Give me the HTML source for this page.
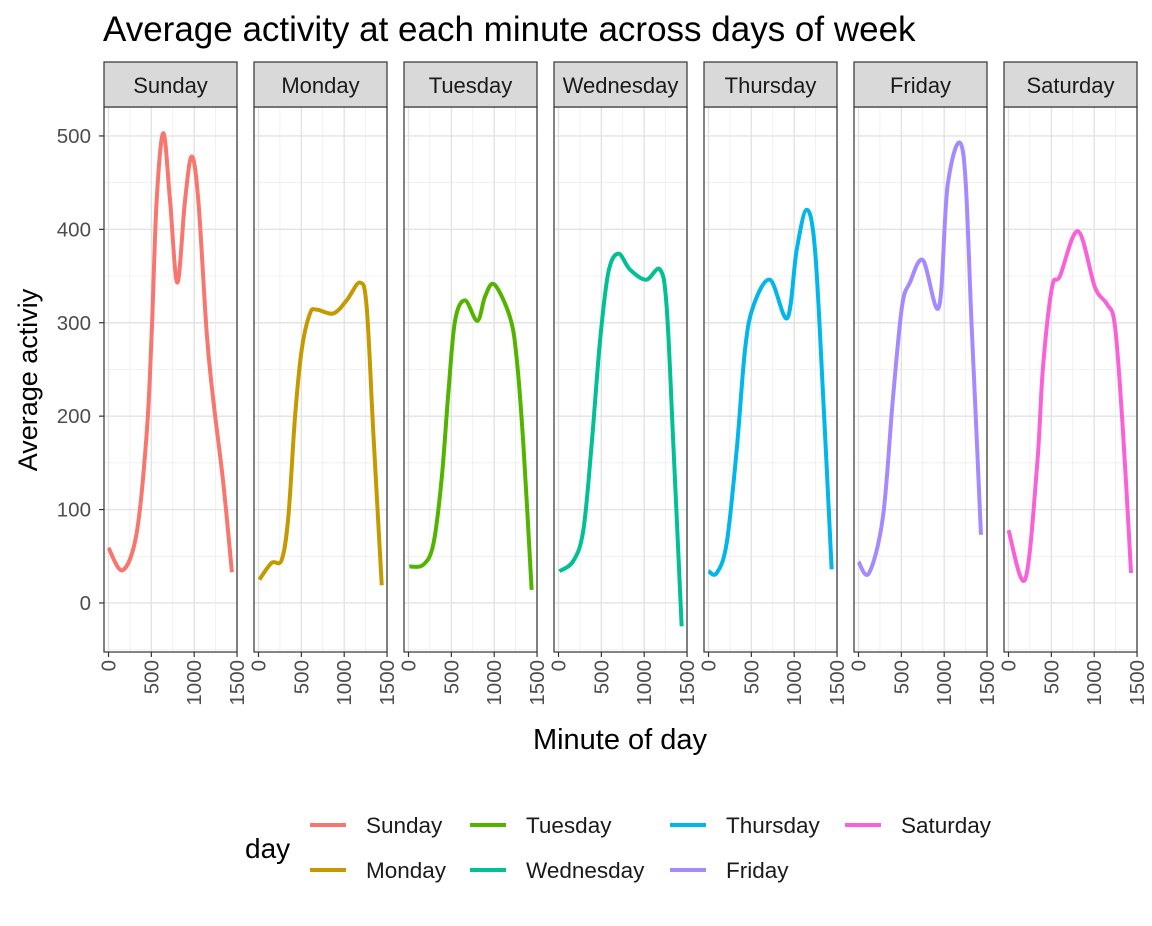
<!DOCTYPE html>
<html><head><meta charset="utf-8"><style>
body{margin:0;background:#fff;font-family:"Liberation Sans",sans-serif}
</style></head><body>
<svg id="c" width="1152" height="921" xmlns="http://www.w3.org/2000/svg" style="font-family:'Liberation Sans',sans-serif">
<text x="103" y="41" font-size="35">Average activity at each minute across days of week</text>
<text transform="translate(37,380) rotate(-90)" text-anchor="middle" font-size="27">Average activiy</text>
<text x="620" y="749" text-anchor="middle" font-size="29">Minute of day</text>
<g id="panels"></g>
<g id="legend"></g>
</svg>
<script>
const days=["Sunday","Monday","Tuesday","Wednesday","Thursday","Friday","Saturday"];
const colors=["#F8766D","#C49A00","#53B400","#00C094","#00B6EB","#A58AFF","#FB61D7"];
const yTicks=[0,100,200,300,400,500];
const xTicks=[0,500,1000,1500];
const sunX=[0,165,329,446,504,562,640,718,803,893,971,1048,1146,1223,1340,1440];
const sunY=[59,35,75,182,289,431,503,431,343,431,478,431,289,217,128,33];
const monX=[10,154,270,348,426,504,601,679,873,1029,1184,1262,1340,1438];
const monY=[25,43,46,92,199,271,310,314,310,324,343,317,182,19];
const tueX=[10,173,290,387,465,543,659,803,893,1001,1184,1262,1340,1437];
const tueY=[39,41,63,133,225,302,324,302,328,341,306,262,170,14];
const wedX=[10,173,290,387,484,582,698,834,1021,1184,1262,1340,1437];
const wedY=[34,45,78,170,280,354,374,357,346,357,317,170,-25];
const thuX=[0,96,212,329,426,523,718,919,1029,1146,1243,1340,1437];
const thuY=[34,32,64,164,271,318,346,305,378,421,378,217,36];
const friX=[0,123,285,400,507,600,752,939,1044,1219,1324,1429];
const friY=[44,32,92,217,317,343,367,317,450,483,289,73];
const satX=[0,193,333,403,508,600,811,1009,1149,1243,1337,1430];
const satY=[78,25,146,253,338,350,398,338,320,296,182,32];
const seriesX=[sunX,monX,tueX,wedX,thuX,friX,satX];
const seriesY=[sunY,monY,tueY,wedY,thuY,friY,satY];
const NS="http://www.w3.org/2000/svg";
function mk(t,a,p){const e=document.createElementNS(NS,t);for(const k in a)e.setAttribute(k,a[k]);p.appendChild(e);return e;}
const pTop=107,pBot=652,pw=133;
const yMin=-52.5,yMax=531;
function ys(v){return pBot-(v-yMin)/(yMax-yMin)*(pBot-pTop);}
function xs(v,x0){return x0+4.5+v*0.0857;}
function smooth(pts){let d="M"+pts[0][0]+","+pts[0][1];for(let i=0;i<pts.length-1;i++){const p0=pts[i-1]||pts[i],p1=pts[i],p2=pts[i+1],p3=pts[i+2]||p2;d+=" C"+(p1[0]+(p2[0]-p0[0])/6)+","+(p1[1]+(p2[1]-p0[1])/6)+" "+(p2[0]-(p3[0]-p1[0])/6)+","+(p2[1]-(p3[1]-p1[1])/6)+" "+p2[0]+","+p2[1];}return d;}
const P=document.getElementById("panels");
yTicks.forEach(v=>{const t=mk("text",{x:91,y:ys(v)+7,"text-anchor":"end","font-size":20.5,fill:"#4d4d4d"},P);t.textContent=v;


mk("line",{x1:99,x2:104,y1:ys(v),y2:ys(v),stroke:"#333","stroke-width":1.2},P);});
days.forEach((d,i)=>{
 const x0=104+i*150;
 const g=mk("g",{},P);
 
 
 mk("rect",{x:x0,y:pTop,width:pw,height:pBot-pTop,fill:"#fff"},g);
 for(let v=-50;v<=550;v+=50){if(v%100!==0){const y=ys(v);if(y>pTop&&y<pBot)mk("line",{x1:x0,x2:x0+pw,y1:y,y2:y,stroke:"#ebebeb","stroke-width":0.7},g);}}
 [250,750,1250].forEach(v=>mk("line",{x1:xs(v,x0),x2:xs(v,x0),y1:pTop,y2:pBot,stroke:"#ebebeb","stroke-width":0.7},g));
 yTicks.forEach(v=>mk("line",{x1:x0,x2:x0+pw,y1:ys(v),y2:ys(v),stroke:"#e3e3e3","stroke-width":1.4},g));
 xTicks.forEach(v=>{mk("line",{x1:xs(v,x0),x2:xs(v,x0),y1:pTop,y2:pBot,stroke:"#e3e3e3","stroke-width":1.4},g);
  mk("line",{x1:xs(v,x0),x2:xs(v,x0),y1:pBot,y2:pBot+5,stroke:"#333","stroke-width":1.2},g);
  const t=mk("text",{transform:"translate("+(xs(v,x0)+7)+","+(pBot+8)+") rotate(-90)","text-anchor":"end","font-size":20.5,fill:"#4d4d4d"},g);t.textContent=v;
  
  });
 const pts=seriesX[i].map((m,j)=>[xs(m,x0),ys(seriesY[i][j])]);
 const l=mk("path",{d:smooth(pts),fill:"none",stroke:colors[i],"stroke-width":4},g);
 
 
 mk("rect",{x:x0,y:pTop,width:pw,height:pBot-pTop,fill:"none",stroke:"#333","stroke-width":1.2},g);
 const s=mk("rect",{x:x0,y:62,width:pw,height:45,fill:"#d9d9d9",stroke:"#333","stroke-width":1.2},g);
 
 
 const st=mk("text",{x:x0+pw/2,y:93,"text-anchor":"middle","font-size":22,fill:"#1a1a1a"},g);st.textContent=d;
});
const L=document.getElementById("legend");
const lt=mk("text",{x:245,y:858,"font-size":28},L);lt.textContent="day";
const colX=[310,470,670,845],rowY=[825,870];
days.forEach((d,i)=>{const c=Math.floor(i/2),r=i%2;const y=rowY[r],x=colX[c];
 const e=mk("g",{},L);
 
 
 mk("line",{x1:x,x2:x+36,y1:y,y2:y,stroke:colors[i],"stroke-width":4},e);
 const t=mk("text",{x:x+56,y:y+8,"font-size":22.5,fill:"#1a1a1a"},e);t.textContent=d;});
</script>
</body></html>
